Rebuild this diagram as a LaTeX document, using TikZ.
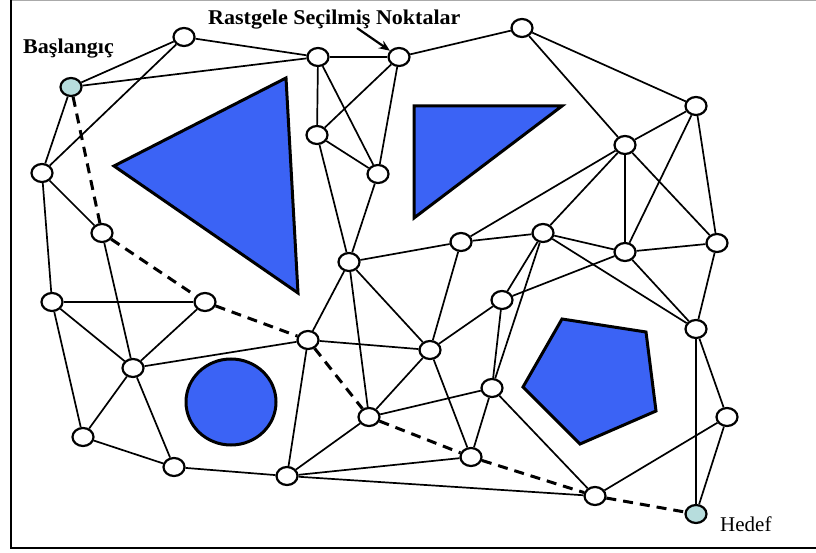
\documentclass[tikz,border=0pt]{standalone}
\usepackage{fontspec}
\setmainfont{Liberation Serif}
\usetikzlibrary{arrows.meta,shapes.geometric}
\pgfdeclarelayer{background}
\pgfsetlayers{background,main}
\definecolor{shapeblue}{RGB}{59,99,245}
\definecolor{endfill}{RGB}{183,221,221}
\definecolor{framegrey}{RGB}{170,170,170}
\begin{document}
\begin{tikzpicture}[x=1pt,y=-1pt,
  pt/.style={ellipse,draw=black,line width=2.2pt,fill=white,minimum width=21pt,minimum height=18pt,inner sep=0pt},
  endpt/.style={pt,fill=endfill},
  edge/.style={line width=1.7pt},
  route/.style={line width=3pt,dash pattern=on 10pt off 7pt},
  obstacle/.style={fill=shapeblue,draw=black,line width=3pt,line join=miter},
  lbl/.style={font=\fontsize{21}{25}\selectfont\bfseries,inner sep=0pt,xscale=1.05},
  plainlbl/.style={font=\fontsize{21}{25}\selectfont,inner sep=0pt}]
\useasboundingbox (0,0) rectangle (816,553);
% points
\node[endpt] (A) at (71,87) {};
\node[pt] (B) at (184,37) {};
\node[pt] (C) at (318,57) {};
\node[pt] (D) at (399,57) {};
\node[pt] (E) at (522,28) {};
\node[pt] (F) at (317,135) {};
\node[pt] (G) at (378,174) {};
\node[pt] (H) at (42,173) {};
\node[pt] (I) at (102,233) {};
\node[pt] (J) at (349,262) {};
\node[pt] (K) at (461,242) {};
\node[pt] (L) at (543,233) {};
\node[pt] (M) at (625,145) {};
\node[pt] (N) at (696,106) {};
\node[pt] (O) at (625,252) {};
\node[pt] (P) at (717,243) {};
\node[pt] (Q) at (52,302) {};
\node[pt] (R) at (205,302) {};
\node[pt] (S) at (308,340) {};
\node[pt] (T) at (430,350) {};
\node[pt] (U) at (502,300) {};
\node[pt] (V) at (696,329) {};
\node[pt] (W) at (133,368) {};
\node[pt] (X) at (492,388) {};
\node[pt] (Y) at (369,417) {};
\node[pt] (Z) at (83,437) {};
\node[pt] (AA) at (174,467) {};
\node[pt] (AB) at (287,476) {};
\node[pt] (AC) at (471,457) {};
\node[pt] (AD) at (595,496) {};
\node[pt] (AE) at (727,417) {};
\node[endpt] (AF) at (696,514) {};
\begin{pgfonlayer}{background}
\fill[white] (0,0) rectangle (816,553);
% frame
\draw[framegrey,line width=1pt] (11,0.5) -- (816,0.5);
\draw[line width=2.2pt] (11,0) -- (11,548) -- (816,548);
% obstacles
\draw[obstacle] (114,166) -- (286,78) -- (298,293) -- cycle;
\draw[obstacle] (414,106) -- (562,106) -- (414,218) -- cycle;
\draw[obstacle] (231,402) ellipse [x radius=45pt, y radius=43pt];
\draw[obstacle] (562,319) -- (646,332) -- (656,411) -- (580,444) -- (523,387) -- cycle;
% edges
\foreach \a/\b in {A/B,A/C,A/H,B/C,B/H,C/D,C/F,C/G,D/E,D/F,D/G,F/G,F/J,G/J,
  E/M,E/N,M/N,M/K,M/L,M/O,M/P,N/O,N/P,O/P,K/L,J/K,L/O,L/U,L/X,L/V,O/U,O/V,P/V,
  K/T,J/S,J/Y,J/T,H/I,H/Q,I/W,Q/R,Q/W,Q/Z,R/W,W/S,W/Z,W/AA,Z/AA,AA/AB,S/T,S/AB,
  T/U,T/Y,T/AC,U/X,X/Y,X/AC,X/AD,Y/AB,AB/AC,AB/AD,AD/AE,V/AE,AE/AF,V/AF}
  \draw[edge] (\a) -- (\b);
\foreach \a/\b in {A/I,I/R,R/S,S/Y,Y/AC,AC/AD,AD/AF}
  \draw[route] (\a) -- (\b);
\end{pgfonlayer}
% labels
\node[lbl,anchor=base west] (start) at (23,54) {Başlangıç};
\node[lbl,anchor=base west] (rand) at (208,25) {Rastgele Seçilmiş Noktalar};
\node[plainlbl,anchor=base west] (goal) at (720,531) {Hedef};
\coordinate (arrtail) at (357,28);
\draw[line width=2.2pt,-{Stealth[length=11pt,width=9pt]}] (arrtail) -- (D);
\end{tikzpicture}
\end{document}
